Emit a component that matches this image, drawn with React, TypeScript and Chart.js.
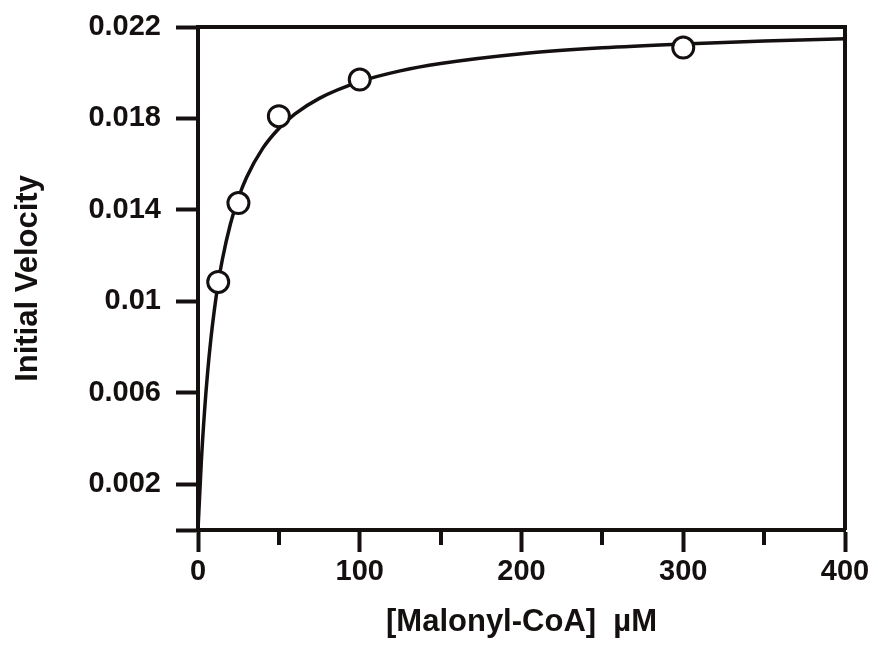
import React, { useEffect, useRef } from "react";
import { Chart, registerables } from "chart.js";

Chart.register(...registerables);

// Measured data points: [Malonyl-CoA] (µM) vs initial velocity
const substrate = [12.5, 25, 50, 100, 300];
const velocity = [0.01085, 0.0143, 0.0181, 0.0197, 0.0211];

// Fitted curve
const fitX = [0, 2, 4, 6, 8, 10, 12.5, 15, 20, 25, 30, 40, 50, 60, 75, 100, 125, 150, 200, 250, 300, 350, 400];
const fitY = [0, 0.00292, 0.00516, 0.00694, 0.00838, 0.00957, 0.0108, 0.01181, 0.01337, 0.01453, 0.01542, 0.01669, 0.01756, 0.0182, 0.01888, 0.01961, 0.02008, 0.0204, 0.02083, 0.02109, 0.02126, 0.02139, 0.02149];

// Axis ticks
const xMajorTicks = [0, 100, 200, 300, 400];
const xMinorTicks = [50, 150, 250, 350];
const yTickValues = [0, 0.002, 0.006, 0.01, 0.014, 0.018, 0.022];
const yTickLabels = ["", "0.002", "0.006", "0.01", "0.014", "0.018", "0.022"];

const INK = "#141010";
const FONT = "'Liberation Sans', Arial, Helvetica, sans-serif";

const framePlugin = {
  id: "frame",
  afterDatasetsDraw(chart: any) {
    const { ctx, chartArea, scales } = chart;
    ctx.save();
    ctx.strokeStyle = INK;
    ctx.lineWidth = 4;
    ctx.lineCap = "butt";
    ctx.beginPath();
    ctx.moveTo(chartArea.left, chartArea.top);
    ctx.lineTo(chartArea.right, chartArea.top);
    ctx.moveTo(chartArea.right, chartArea.top - 2);
    ctx.lineTo(chartArea.right, chartArea.bottom);
    ctx.stroke();
    // minor x ticks
    const xs = scales.x;
    ctx.beginPath();
    for (const v of xMinorTicks) {
      const px = Math.round(xs.getPixelForValue(v));
      ctx.moveTo(px, chartArea.bottom);
      ctx.lineTo(px, chartArea.bottom + 15);
    }
    ctx.stroke();
    ctx.restore();
  },
};

export default function App() {
  const ref = useRef<HTMLCanvasElement | null>(null);

  useEffect(() => {
    document.body.style.margin = "0";
    const canvas = ref.current;
    if (!canvas) return;
    const chart = new Chart(canvas, {
      type: "scatter",
      data: {
        datasets: [
          {
            label: "Observed",
            data: substrate.map((x, i) => ({ x, y: velocity[i] })),
            pointRadius: 10.5,
            pointBorderWidth: 3,
            pointBackgroundColor: "#ffffff",
            pointBorderColor: INK,
            showLine: false,
            order: 0,
          },
          {
            label: "Fit",
            data: fitX.map((x, i) => ({ x, y: fitY[i] })),
            showLine: true,
            pointRadius: 0,
            borderColor: INK,
            borderWidth: 3.5,
            cubicInterpolationMode: "monotone",
            fill: false,
            order: 1,
          },
        ],
      },
      options: {
        responsive: false,
        animation: false,
        layout: { padding: { left: 0, top: 27, right: 33, bottom: 0 } },
        plugins: {
          legend: { display: false },
          tooltip: { enabled: false },
        },
        scales: {
          x: {
            type: "linear",
            min: 0,
            max: 400,
            afterBuildTicks: (s: any) => {
              s.ticks = xMajorTicks.map((v) => ({ value: v }));
            },
            afterFit: (s: any) => {
              s.height = 119;
              s.paddingLeft = 0;
              s.paddingRight = 0;
            },
            grid: {
              drawOnChartArea: false,
              drawTicks: true,
              tickLength: 22,
              tickWidth: 4,
              tickColor: INK,
            },
            border: { display: true, width: 4, color: INK },
            ticks: {
              color: INK,
              padding: 3,
              maxRotation: 0,
              font: { family: FONT, size: 29, weight: "bold" },
              callback: (v: any) => String(v),
            },
            title: {
              display: true,
              text: "[Malonyl-CoA]  µM",
              color: INK,
              font: { family: FONT, size: 31, weight: "bold" },
              padding: { top: 0, bottom: 8 },
            },
          },
          y: {
            type: "linear",
            min: 0,
            max: 0.022,
            afterBuildTicks: (s: any) => {
              s.ticks = yTickValues.map((v) => ({ value: v }));
            },
            afterFit: (s: any) => {
              s.width = 198;
              s.paddingTop = 0;
              s.paddingBottom = 0;
            },
            grid: {
              drawOnChartArea: false,
              drawTicks: true,
              tickLength: 22,
              tickWidth: 4,
              tickColor: INK,
            },
            border: { display: true, width: 4, color: INK },
            ticks: {
              color: INK,
              padding: 15,
              font: { family: FONT, size: 29, weight: "bold" },
              callback: (_v: any, i: number) => yTickLabels[i],
            },
            title: {
              display: true,
              text: "Initial Velocity",
              color: INK,
              font: { family: FONT, size: 31, weight: "bold" },
              padding: { top: 10, bottom: 0 },
            },
          },
        },
      },
      plugins: [framePlugin],
    });
    return () => chart.destroy();
  }, []);

  return (
    <div style={{ width: 878, height: 649 }}>
      <canvas ref={ref} width={878} height={649} style={{ display: "block" }} />
    </div>
  );
}
